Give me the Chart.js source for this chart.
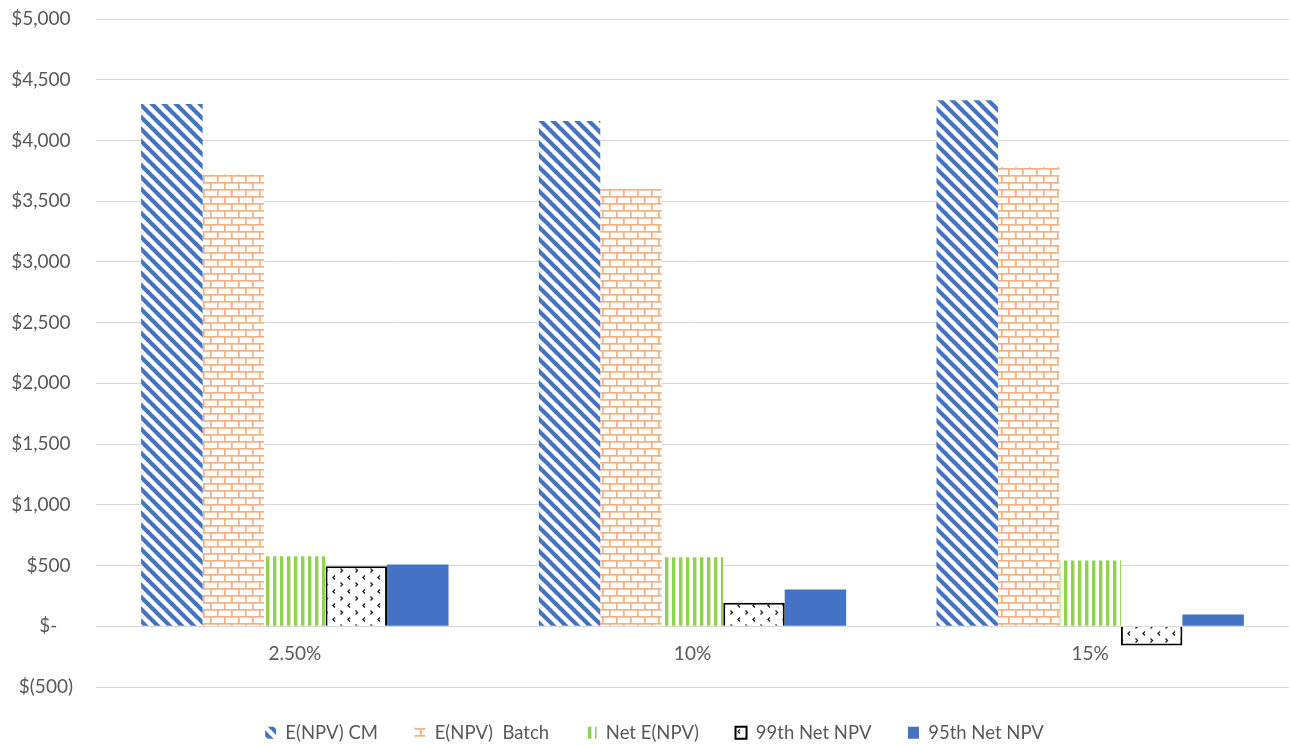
<!DOCTYPE html>
<html>
<head>
<meta charset="utf-8">
<script src="https://cdn.jsdelivr.net/npm/chart.js@4/dist/chart.umd.min.js"></script>
<style>
  html, body { margin: 0; padding: 0; background: #ffffff; }
  #wrap { width: 1290px; height: 745px; }
</style>
</head>
<body>
<div id="wrap"><canvas id="c" width="1290" height="745"></canvas></div>
<script>
// Discount rate scenarios
const rates = ['2.50%', '10%', '15%'];

// Series values ($)
const npvCM    = [4300, 4160, 4330];
const npvBatch = [3720, 3600, 3780];
const netNPV   = [577, 568, 542];
const net99th  = [494, 193, -159];
const net95th  = [508, 302, 96];

const seriesNames = ['E(NPV) CM', 'E(NPV)  Batch', 'Net E(NPV)', '99th Net NPV', '95th Net NPV'];

// Value axis range
const yMin = -500, yMax = 5000, yStep = 500;

const canvas = document.getElementById('c');
const ctx = canvas.getContext('2d');

function makePattern(w, h, paint) {
  const tile = document.createElement('canvas');
  tile.width = w; tile.height = h;
  const g = tile.getContext('2d');
  g.fillStyle = '#ffffff';
  g.fillRect(0, 0, w, h);
  paint(g);
  return ctx.createPattern(tile, 'repeat');
}

// Wide downward diagonal
const diagBlue = makePattern(12, 12, g => {
  g.strokeStyle = '#4472C4';
  g.lineWidth = 4.1;
  for (let k = -2; k <= 2; k++) {
    g.beginPath();
    g.moveTo(-12, -12 + k * 12);
    g.lineTo(24, 24 + k * 12);
    g.stroke();
  }
});

// Brick
const brickOrange = makePattern(14, 14, g => {
  g.fillStyle = '#F4B183';
  g.fillRect(0, 0, 14, 1.7);
  g.fillRect(0, 7, 14, 1.7);
  g.fillRect(0, 0, 1.7, 7);
  g.fillRect(7, 7, 1.7, 7);
});

// Vertical stripes
const stripeGreen = makePattern(7, 7, g => {
  g.fillStyle = '#92D050';
  g.fillRect(0, 0, 3.4, 7);
});

// Small chevrons on white
const chevrons = makePattern(15, 14, g => {
  g.strokeStyle = '#222222';
  g.lineWidth = 1.4;
  g.beginPath();
  g.moveTo(5, 1.5); g.lineTo(3, 3.5); g.lineTo(5, 5.5);
  g.moveTo(10.5, 8.5); g.lineTo(12.5, 10.5); g.lineTo(10.5, 12.5);
  g.stroke();
});

const textColor = '#595959';
const fontFamily = 'Lato, "Open Sans", sans-serif';

// Accounting-style labels: $5,000 / $- / $(500)
function money(v) {
  if (v === 0) return '$-   \u200A';
  if (v < 0) return '$(' + Math.abs(v).toLocaleString('en-US') + ')';
  return '$' + v.toLocaleString('en-US') + '\u2009';
}

// Nudges the bottom legend a little to the right of the canvas centre
const legendOffset = {
  id: 'legendOffset',
  afterLayout(chart) {
    const lg = chart.legend;
    if (lg) { lg.left += 10; lg.right += 10; }
  }
};

new Chart(ctx, {
  type: 'bar',
  data: {
    labels: rates,
    datasets: [
      { label: seriesNames[0], data: npvCM,    backgroundColor: diagBlue,    borderWidth: 0 },
      { label: seriesNames[1], data: npvBatch, backgroundColor: brickOrange, borderWidth: 0 },
      { label: seriesNames[2], data: netNPV,   backgroundColor: stripeGreen, borderWidth: 0 },
      { label: seriesNames[3], data: net99th,  backgroundColor: chevrons,    borderColor: '#000000', borderWidth: 2 },
      { label: seriesNames[4], data: net95th,  backgroundColor: '#4472C4',   borderWidth: 0 }
    ]
  },
  plugins: [legendOffset],
  options: {
    responsive: false,
    animation: false,
    devicePixelRatio: 1,
    layout: { padding: { left: 0, top: 19, right: 1, bottom: 0 } },
    datasets: {
      bar: { categoryPercentage: 0.773, barPercentage: 1.0 }
    },
    scales: {
      x: {
        type: 'category',
        position: { y: 0 },
        grid: { display: false, drawTicks: false },
        border: { display: false },
        ticks: {
          color: textColor,
          font: { family: fontFamily, size: 19 },
          padding: 16,
          maxRotation: 0
        }
      },
      y: {
        min: yMin,
        max: yMax,
        grid: { color: '#D9D9D9', lineWidth: 1, drawTicks: false },
        border: { display: false },
        ticks: {
          stepSize: yStep,
          color: textColor,
          font: { family: fontFamily, size: 19 },
          padding: 23,
          callback: v => money(v)
        },
        afterFit: s => {
          s.width = 96;
          s.paddingTop = 0;
          s.paddingBottom = 0;
        }
      }
    },
    plugins: {
      legend: {
        position: 'bottom',
        maxHeight: 58,
        labels: {
          color: textColor,
          font: { family: fontFamily, size: 18.5 },
          boxWidth: 11,
          boxHeight: 12,
          padding: 36.5
        }
      },
      tooltip: { enabled: false }
    }
  }
});
</script>
</body>
</html>
